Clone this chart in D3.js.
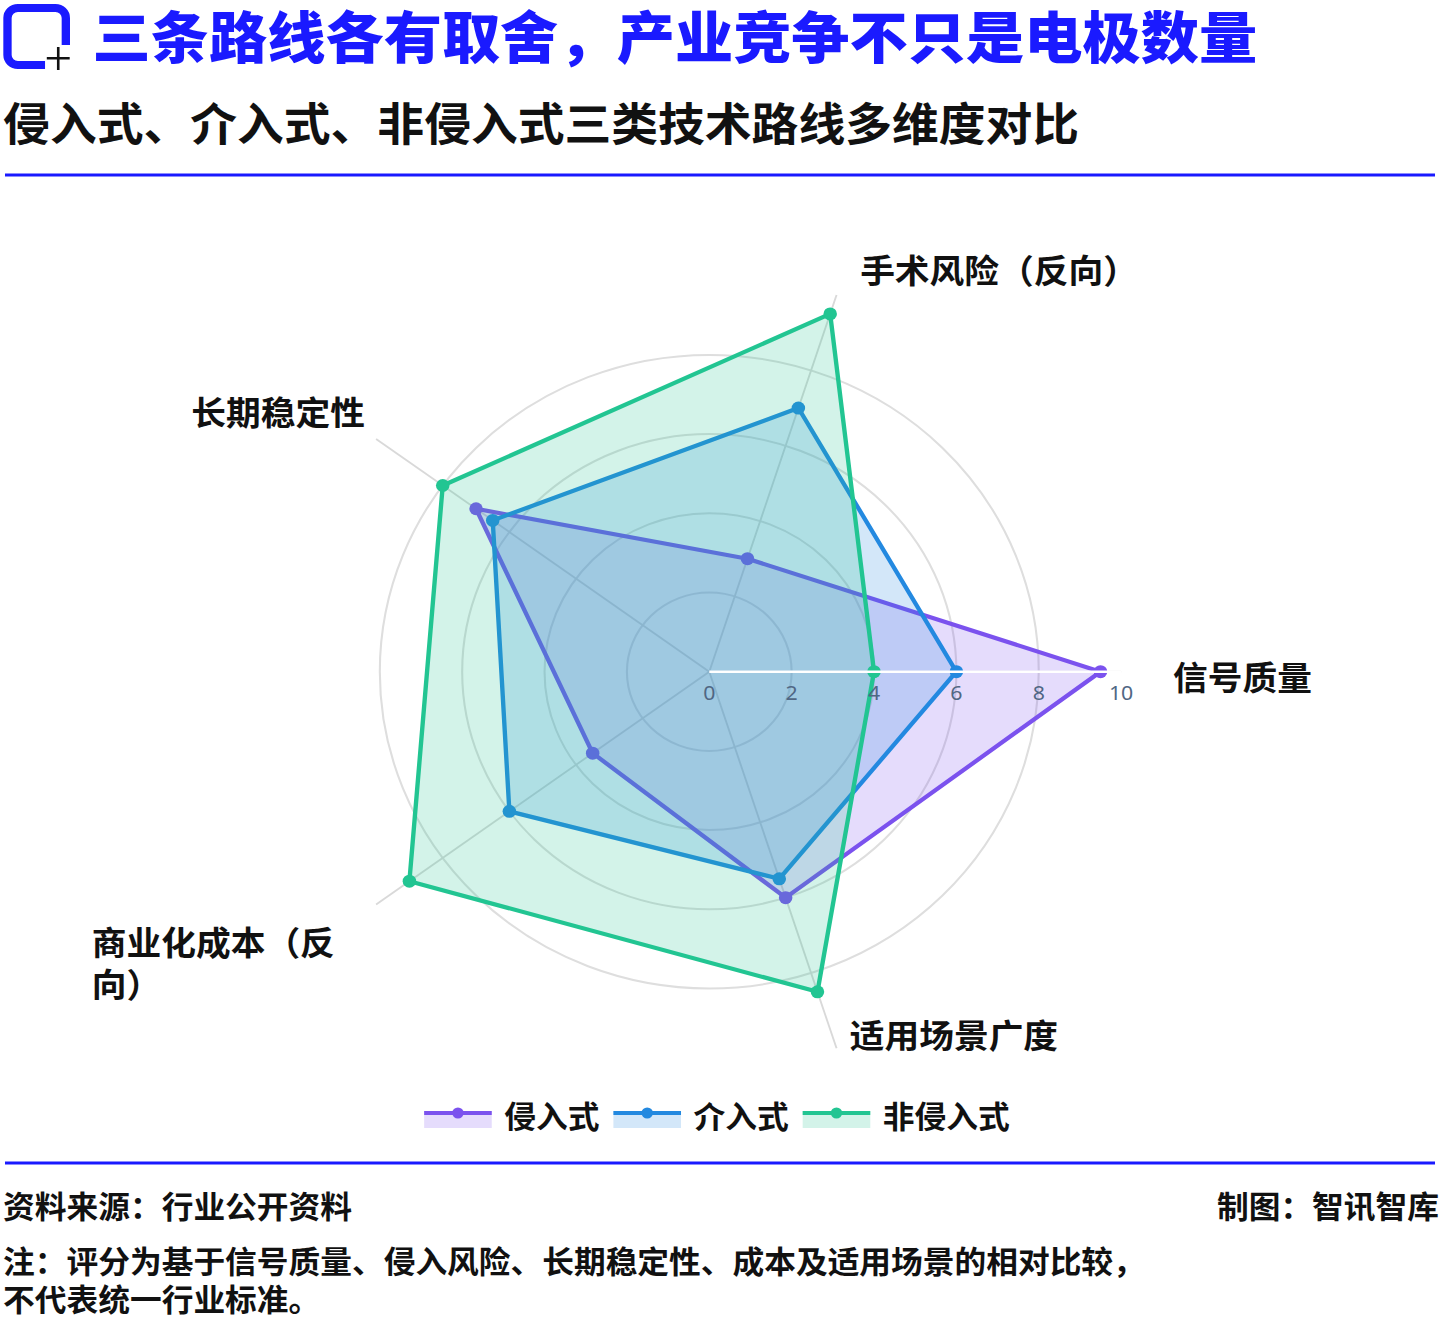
<!DOCTYPE html>
<html>
<head>
<meta charset="utf-8">
<script src="https://cdn.jsdelivr.net/npm/d3@7"></script>
<style>
  body { margin: 0; background: #fff; }
  svg { display: block; }
  text { font-family: "Noto Sans CJK SC", "Noto Sans", sans-serif; }
</style>
</head>
<body>
<svg id="chart" width="1440" height="1322"></svg>
<script>
// chart data
var categories = ["信号质量", "手术风险（反向）", "长期稳定性", "商业化成本（反向）", "适用场景广度"];
var seriesNames = ["侵入式", "介入式", "非侵入式"];
var invasive = [9.5, 3, 7, 3.5, 6];
var interventional = [6, 7, 6.5, 6, 5.5];
var nonInvasive = [4, 9.5, 8, 9, 8.5];
var radialTicks = [0, 2, 4, 6, 8, 10];
var gridRings = [2, 4, 6, 8];

var titleText = "三条路线各有取舍，产业竞争不只是电极数量";
var subtitleText = "侵入式、介入式、非侵入式三类技术路线多维度对比";
var sourceText = "资料来源：行业公开资料";
var creditText = "制图：智讯智库";
var noteLines = ["注：评分为基于信号质量、侵入风险、长期稳定性、成本及适用场景的相对比较，", "不代表统一行业标准。"];

// the reference is a bit wider than tall, so draw in a squeezed box and stretch it
var stretch = 1.04;
var W = 1440 / stretch, H = 1322;
var blue = "#1a1aff";
var colors = ["#7b52ee", "#2389e0", "#22c592"];
var textWeight = 600;

var svg = d3.select("#chart")
    .attr("viewBox", "0 0 " + W + " " + H)
    .attr("preserveAspectRatio", "none");

// ---------- header ----------
svg.append("path")
    .attr("d", "M63.3,45 V18 A10,10 0 0 0 53.3,8 H17.2 A10,10 0 0 0 7.2,18 V55 A10,10 0 0 0 17.2,65 H43.3")
    .style("fill", "none").style("stroke", blue).style("stroke-width", 8);
svg.append("path")
    .attr("d", "M45,58.3 H67 M56,47 V70")
    .style("fill", "none").style("stroke", "#111").style("stroke-width", 2.5);

svg.append("text")
    .attr("x", 89).attr("y", 58)
    .style("font-size", "56px").style("font-weight", 900).style("fill", blue)
    .text(titleText);

svg.append("text")
    .attr("x", 3).attr("y", 141)
    .style("font-size", "45px").style("font-weight", textWeight).style("fill", "#111")
    .text(subtitleText);

svg.append("rect").attr("x", 4.8).attr("y", 173.5).attr("width", W - 9.6).attr("height", 3).style("fill", blue);
svg.append("rect").attr("x", 4.8).attr("y", 1161.5).attr("width", W - 9.6).attr("height", 3).style("fill", blue);

// ---------- radar ----------
var cx = 682, cy = 671.7;
var r = d3.scaleLinear().domain([0, 10]).range([0, 396]);
var n = categories.length;
// lineRadial angle: clockwise from 12 o'clock, first axis points east, then counter-clockwise
function angle(i) { return Math.PI / 2 - i * 2 * Math.PI / n; }
function px(i, v) { return cx + r(v) * Math.sin(angle(i)); }
function py(i, v) { return cy - r(v) * Math.cos(angle(i)); }

var g = svg.append("g").attr("transform", "translate(" + cx + "," + cy + ")");

g.selectAll("circle.ring")
    .data(gridRings)
    .enter().append("circle")
    .attr("class", "ring")
    .attr("r", function(d) { return r(d); })
    .style("fill", "none").style("stroke", "#dedede").style("stroke-width", 2);

g.selectAll("line.spoke")
    .data(categories)
    .enter().append("line")
    .attr("class", "spoke")
    .attr("x1", 0).attr("y1", 0)
    .attr("x2", function(d, i) { return px(i, 10) - cx; })
    .attr("y2", function(d, i) { return py(i, 10) - cy; })
    .style("stroke", "#d9d9d9").style("stroke-width", 1.8);

var series = [invasive, interventional, nonInvasive];
var radial = d3.lineRadial()
    .angle(function(d, i) { return angle(i); })
    .radius(function(d) { return r(d); })
    .curve(d3.curveLinearClosed);

series.forEach(function(vals, s) {
  var sg = g.append("g");
  sg.append("path")
      .attr("d", radial(vals))
      .style("fill", colors[s]).style("fill-opacity", 0.2)
      .style("stroke", colors[s]).style("stroke-width", 4.2).style("stroke-linejoin", "round");
  sg.selectAll("circle")
      .data(vals)
      .enter().append("circle")
      .attr("cx", function(d, i) { return px(i, d) - cx; })
      .attr("cy", function(d, i) { return py(i, d) - cy; })
      .attr("r", 6.5)
      .style("fill", colors[s]);
});

// radial axis on top
g.append("line")
    .attr("x1", 0).attr("y1", 0).attr("x2", r(10)).attr("y2", 0)
    .style("stroke", "#fff").style("stroke-width", 2.5);

g.selectAll("text.tick")
    .data(radialTicks)
    .enter().append("text")
    .attr("class", "tick")
    .attr("x", function(d) { return r(d); })
    .attr("y", 28)
    .attr("text-anchor", "middle")
    .style("font-family", "'Noto Sans', sans-serif")
    .style("font-size", "20.5px").style("fill", "#506784")
    .text(function(d) { return d; });

// angular labels, pushed a little past the outer ring then nudged by hand
var labelFont = 33.4;
var labelNudge = [[30, 6.3], [16.5, -5], [5.5, -14], [-23.5, 26.7], [6.5, -30.6]];
categories.forEach(function(name, i) {
  var lx = px(i, 10.505) + labelNudge[i][0];
  var ly = py(i, 10.505) + labelNudge[i][1];
  var c = Math.cos(angle(i) - Math.PI / 2);
  var lines = (c < -0.1 && name.length > 7) ? [name.slice(0, 7), name.slice(7)] : [name];
  var t = svg.append("text")
      .style("font-size", labelFont + "px").style("font-weight", textWeight).style("fill", "#111");
  lines.forEach(function(l, k) {
    t.append("tspan").attr("x", 0).attr("y", k * 42 + labelFont * 0.35).text(l);
  });
  var w = t.node().getBBox().width;
  var x0 = c > 0.1 ? lx : (c < -0.1 ? lx - w : lx - w / 2);
  t.attr("transform", "translate(" + x0 + "," + ly + ")");
});

// ---------- legend ----------
var legend = svg.append("g");
var lx = 0;
seriesNames.forEach(function(name, s) {
  var item = legend.append("g").attr("transform", "translate(" + lx + ",0)");
  item.append("rect").attr("x", 0).attr("y", 1111).attr("width", 65).attr("height", 17)
      .style("fill", colors[s]).style("fill-opacity", 0.2);
  item.append("line").attr("x1", 0).attr("x2", 65).attr("y1", 1113).attr("y2", 1113)
      .style("stroke", colors[s]).style("stroke-width", 4);
  item.append("circle").attr("cx", 32.5).attr("cy", 1113).attr("r", 5.5).style("fill", colors[s]);
  var t = item.append("text").attr("x", 77).attr("y", 1128)
      .style("font-size", "30.5px").style("font-weight", textWeight).style("fill", "#111")
      .text(name);
  lx += 77 + t.node().getComputedTextLength() + 13.5;
});
legend.attr("transform", "translate(" + (W / 2 - (lx - 13.5) / 2 - 3) + ",0)");

// ---------- footer ----------
svg.append("text").attr("x", 3).attr("y", 1218)
    .style("font-size", "30.5px").style("font-weight", textWeight).style("fill", "#111")
    .text(sourceText);
svg.append("text").attr("x", W - 1).attr("y", 1218).attr("text-anchor", "end")
    .style("font-size", "30.5px").style("font-weight", textWeight).style("fill", "#111")
    .text(creditText);
svg.selectAll("text.note")
    .data(noteLines)
    .enter().append("text")
    .attr("class", "note")
    .attr("x", 3)
    .attr("y", function(d, i) { return 1273 + i * 38; })
    .style("font-size", "30.5px").style("font-weight", textWeight).style("fill", "#111")
    .text(function(d) { return d; });
</script>
</body>
</html>
